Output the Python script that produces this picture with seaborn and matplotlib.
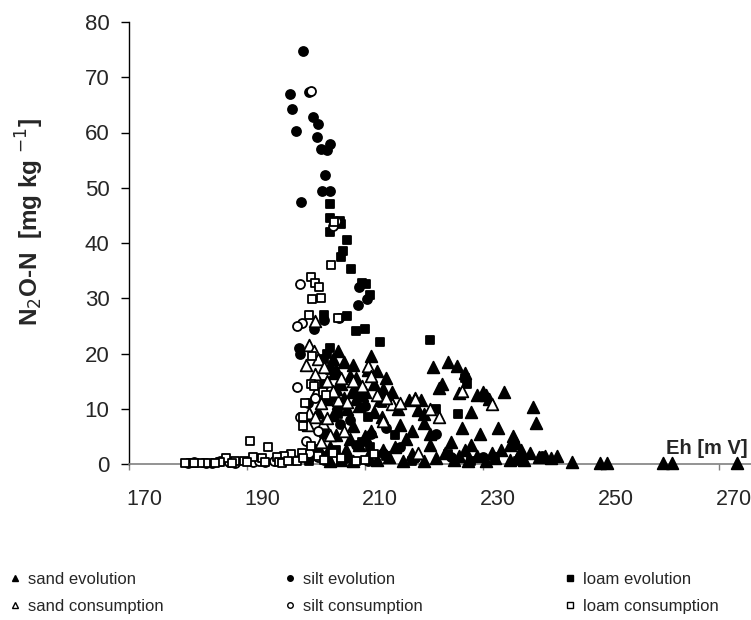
import matplotlib
matplotlib.use("Agg")
import matplotlib.pyplot as plt
import matplotlib.transforms as mtransforms
from matplotlib.lines import Line2D
import seaborn as sns
import pandas as pd

# ---------------- data (Eh [mV], N2O-N [mg/kg]) ----------------
sand_evo_x = [205.5,204.5,206.5,205.0,204.8,206.0,205.0,206.5,205.5,207.0,208.0,207.5,208.5,209.0,207.8,
              209.5,208.5,209.0,210.0,211.0,210.5,211.5,212.0,213.0,212.5,213.5,214.0,211.5,212.8,214.5,
              215.5,216.0,217.5,218.5,219.0,220.0,221.5,222.5,223.0,224.0,225.5,227.0,226.0,226.5,228.0,
              229.0,230.0,230.5,232.5,231.0,233.5,235.0,235.5,238.5,239.0,228.0,229.5,231.5,227.0,224.5,
              221.0,220.0,219.5,218.0,217.0,215.0,213.0,211.0,210.0,209.0,208.0,207.5,206.8,205.0,204.0,
              203.0,202.5,202.0,203.5,204.5,204.0,206.0,208.0,210.5,212.0,214.0,216.5,218.0,220.0,222.0,
              223.5,225.0,227.5,229.0,230.5,232.0,233.0,234.5,236.0,237.0,238.0,239.5,240.5,241.5,242.5,
              245.0,249.8,251.0,260.5,262.0,273.0,234.5,236.5,226.0,221.0]
sand_evo_y = [20.5,19.0,18.5,17.0,16.5,14.5,13.5,12.0,11.0,10.0,18.0,16.0,15.5,14.0,13.0,
              12.5,11.8,10.5,13.0,19.5,17.0,14.5,16.8,13.5,11.5,15.5,12.0,9.5,8.5,13.0,
              10.0,7.0,11.5,12.0,9.8,9.0,17.5,13.8,14.5,18.5,17.8,16.5,12.8,6.5,9.5,
              12.5,13.0,12.5,6.5,11.8,13.0,5.0,3.8,10.3,7.5,3.5,5.5,2.0,2.5,4.0,
              5.5,7.5,11.5,6.0,4.5,3.0,2.5,6.0,5.0,3.5,6.8,4.5,2.5,5.2,3.0,
              6.5,2.0,9.5,11.8,8.8,0.5,0.8,0.5,1.5,0.8,1.2,0.5,1.8,0.5,1.0,
              2.0,0.8,0.5,1.5,0.5,1.0,2.5,0.8,1.5,0.8,2.0,1.2,1.5,1.0,1.5,
              0.3,0.2,0.2,0.2,0.2,0.2,3.5,2.5,1.5,3.5]

silt_evo_x = [199.5,197.3,197.6,198.3,200.5,201.2,202.0,201.8,202.6,203.5,204.0,203.2,202.7,204.0,199.2,
              210.3,209.0,208.8,205.6,203.0,201.3,198.8,199.0,200.3,199.8,202.8,205.8,207.5,210.0,212.5,
              208.5,206.8,211.0,213.5,216.0,222.0,224.5,218.5,230.0,236.5,240.0,200.5,203.5,210.5,213.0]
silt_evo_y = [74.8,67.0,64.3,60.2,67.3,62.8,61.5,59.2,57.0,56.8,58.0,52.3,49.5,49.5,47.5,
              29.8,32.0,28.8,26.5,26.0,24.5,21.0,20.0,11.0,7.5,5.5,7.2,8.0,10.5,12.0,
              3.5,1.0,5.5,6.5,3.0,5.5,1.2,1.0,1.2,1.0,1.5,1.0,0.8,0.5,2.0]

loam_evo_x = [204.0,204.0,205.8,206.0,204.0,207.0,206.3,206.0,207.6,209.5,210.2,210.8,203.0,207.0,208.5,
              210.0,212.5,221.0,227.0,227.2,204.0,203.5,203.0,204.0,203.0,204.5,208.5,205.5,210.5,212.8,
              222.0,225.8,215.0,209.5,210.8,203.5,205.0,206.0,213.5,218.0,224.0,228.0,232.0,236.0,200.5,202.0]
loam_evo_y = [47.0,44.5,44.0,43.5,42.0,40.5,38.5,37.5,35.3,32.8,32.5,30.5,27.0,26.7,24.0,
              24.5,22.0,22.5,15.5,14.5,21.0,20.0,19.0,17.0,14.5,12.0,13.0,9.0,8.5,11.0,
              10.0,9.0,5.2,4.0,3.0,1.5,2.5,0.8,1.5,0.5,1.8,0.5,1.2,0.5,0.5,2.8]

sand_con_x = [201.5,200.5,201.3,202.0,200.0,203.0,201.5,203.5,201.7,202.5,200.5,201.5,202.8,200.3,205.5,
              207.0,208.0,209.5,212.0,214.5,218.5,221.0,231.5,226.5,222.5,210.5,211.0,213.5,216.0,206.0,
              204.5,203.5,204.0,202.5,213.0,219.0,206.5]
sand_con_y = [25.8,21.5,20.5,19.0,18.0,17.5,16.3,15.0,13.0,11.0,9.2,8.5,7.5,7.0,11.5,
              11.2,15.0,14.2,12.5,10.8,11.8,10.0,10.8,13.2,8.5,17.8,16.0,12.0,11.0,15.5,
              13.2,8.3,5.2,4.0,7.8,2.0,6.0]

silt_con_x = [200.8,205.0,204.5,199.0,199.3,198.5,180.0,181.0,183.0,184.0,185.5,187.0,188.0,191.0,192.0,
              193.0,194.5,196.0,197.0,198.0,199.5,200.5,202.0,203.0,199.0,200.0,202.0,198.5,201.5]
silt_con_y = [67.5,44.0,43.0,32.5,25.5,25.0,0.2,0.3,0.2,0.2,0.5,0.3,0.2,0.3,0.5,
              0.4,0.6,1.0,1.5,0.8,1.5,2.0,1.2,0.8,8.5,4.2,6.0,14.0,12.0]

loam_con_x = [200.8,201.5,202.2,201.0,202.6,204.8,204.3,200.5,205.5,201.0,200.8,201.3,202.8,203.3,199.5,
              199.5,199.8,200.8,199.3,197.5,196.2,195.0,193.5,192.5,190.5,191.0,189.5,188.0,186.5,185.5,
              184.5,183.0,182.0,180.5,179.5,181.0,187.5,190.0,193.0,195.5,196.0,197.0,198.5,199.5,202.0,
              203.0,204.5,206.0,208.5,210.0,211.5]
loam_con_y = [33.8,32.8,32.0,29.8,30.0,43.8,36.0,27.0,26.5,19.5,14.5,14.2,13.0,12.5,8.5,
              6.8,11.0,3.2,2.0,1.8,1.5,1.2,3.0,1.0,4.2,1.2,0.6,0.5,1.0,0.3,
              0.2,0.2,0.2,0.1,0.1,0.1,0.2,0.3,0.3,0.4,0.2,0.5,0.5,1.0,1.5,
              0.8,2.0,1.0,0.5,0.8,1.8]

x_ticks = [170, 190, 210, 230, 250, 270]
y_ticks = [0, 10, 20, 30, 40, 50, 60, 70, 80]
legend_labels = ["sand evolution", "sand consumption", "silt evolution",
                 "silt consumption", "loam evolution", "loam consumption"]

# ---------------- figure ----------------
sns.set_style("white")
plt.rcParams["font.family"] = ["Liberation Sans", "DejaVu Sans"]

W, H = 751, 620
fig = plt.figure(figsize=(W / 100, H / 100), dpi=100)
ax = fig.add_axes([129 / W, 1 - 464 / H, (W - 129) / W, (464 - 22) / H])

series = [
    (sand_evo_x, sand_evo_y, "^", 70, "black", "black"),
    (silt_evo_x, silt_evo_y, "o", 42, "black", "black"),
    (loam_evo_x, loam_evo_y, "s", 36, "black", "black"),
    (sand_con_x, sand_con_y, "^", 70, "white", "black"),
    (silt_con_x, silt_con_y, "o", 42, "white", "black"),
    (loam_con_x, loam_con_y, "s", 36, "white", "black"),
]
for xs, ys, mk, s, fc, ec in series:
    df = pd.DataFrame({"Eh": xs, "N2O": ys})
    sns.scatterplot(data=df, x="Eh", y="N2O", marker=mk, s=s, color=fc,
                    edgecolor=ec, linewidth=1.3, ax=ax, legend=False, zorder=3, clip_on=False)

ax.set_xlim(170, 275.4)
ax.set_ylim(0, 80)
ax.set_xticks(x_ticks)
ax.set_yticks(y_ticks)
ax.set_xlabel("")
ax.set_ylabel("")

for sp in ["top", "right"]:
    ax.spines[sp].set_visible(False)
ax.spines["left"].set_color("black")
ax.spines["left"].set_linewidth(1.0)
ax.spines["bottom"].set_color("#808080")
ax.spines["bottom"].set_linewidth(1.2)

ax.tick_params(axis="y", direction="out", length=6, width=1, color="black",
               labelsize=16, pad=8, left=True)
ax.tick_params(axis="x", direction="out", length=4, width=1, color="#808080",
               labelsize=15.5, pad=14, bottom=True)
offset = mtransforms.ScaledTranslation(15 / 100, 0, fig.dpi_scale_trans)
for lab in ax.get_xticklabels():
    lab.set_transform(lab.get_transform() + offset)

fig.text(30 / W, 1 - 222 / H, "N$_2$O-N  [mg kg $^{-1}$]", rotation=90,
         ha="center", va="center", fontsize=17.5, fontweight="bold")
ax.text(0.995, 0.014, "Eh [m V]", transform=ax.transAxes,
        ha="right", va="bottom", fontsize=14.5, fontweight="bold")

# ---------------- legend (three columns, two rows) ----------------
def h(marker, fc):
    return Line2D([], [], linestyle="none", marker=marker, markersize=4,
                  markerfacecolor=fc, markeredgecolor="black", markeredgewidth=1.0)

handles = [h("^", "black"), h("^", "white"), h("o", "black"),
           h("o", "white"), h("s", "black"), h("s", "white")]
col_x = [-2, 273, 553]
for i in range(3):
    fig.legend(handles=handles[2 * i:2 * i + 2], labels=legend_labels[2 * i:2 * i + 2],
               loc="upper left", bbox_to_anchor=(col_x[i] / W, 1 - 560 / H),
               frameon=False, fontsize=12, handlelength=0.6, handletextpad=0.5,
               labelspacing=0.72, borderpad=0.2)

fig.savefig("out.png", dpi=100)
